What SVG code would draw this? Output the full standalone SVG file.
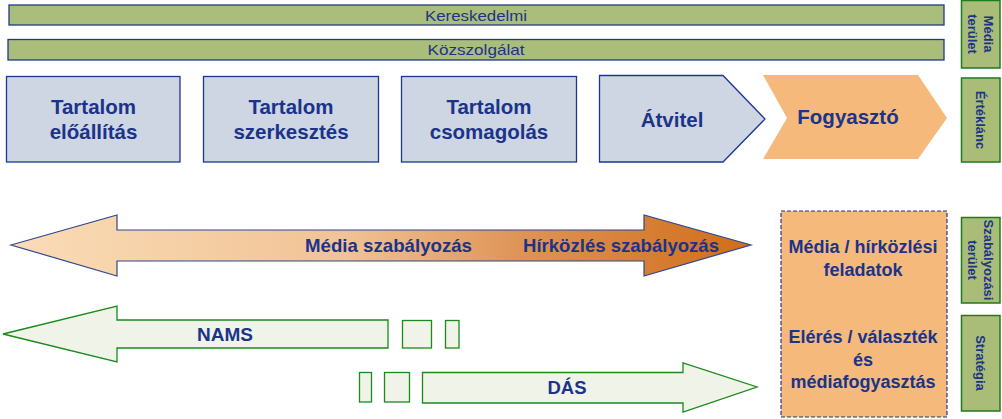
<svg xmlns="http://www.w3.org/2000/svg" width="1002" height="419" viewBox="0 0 1002 419">
<defs>
<linearGradient id="gOrange" x1="11" y1="0" x2="751" y2="0" gradientUnits="userSpaceOnUse">
<stop offset="0" stop-color="#fadcb7"/>
<stop offset="0.45" stop-color="#f1c395"/>
<stop offset="0.68" stop-color="#df9558"/>
<stop offset="1" stop-color="#d06d18"/>
</linearGradient>
<style>
.t{font-family:"Liberation Sans",Arial,sans-serif;fill:#1b3389;text-anchor:middle}
.b{font-weight:bold}
.bar{fill:#abbd7a;stroke:#1f3a8a;stroke-width:1.3}
.side{fill:#a9bd78;stroke:#1e7b1e;stroke-width:1.5}
.box{fill:#cdd6e2;stroke:#1f3590;stroke-width:1.3}
.grn{fill:#eff3e8;stroke:#1a8a1a;stroke-width:1.3}
.st{font-size:13px;font-weight:bold;dominant-baseline:central}
</style>
</defs>
<rect width="1002" height="419" fill="#ffffff"/>

<g id="bar-kereskedelmi">
<rect class="bar" x="9" y="5" width="935" height="20"/>
<text class="t" x="476" y="20.5" font-size="15" textLength="102" lengthAdjust="spacingAndGlyphs">Kereskedelmi</text>
</g>
<g id="bar-kozszolgalat">
<rect class="bar" x="8" y="39.5" width="936" height="20.5"/>
<text class="t" x="476" y="55" font-size="15" textLength="97" lengthAdjust="spacingAndGlyphs">Közszolgálat</text>
</g>

<g id="node-eloallitas">
<rect class="box" x="6.5" y="76.5" width="173.5" height="85.5"/>
<text class="t b" x="93.5" y="114" font-size="20.5">Tartalom</text>
<text class="t b" x="93.5" y="139" font-size="20.5">előállítás</text>
</g>
<g id="node-szerkesztes">
<rect class="box" x="203.5" y="76.5" width="175" height="85.5"/>
<text class="t b" x="291" y="114" font-size="20.5">Tartalom</text>
<text class="t b" x="291" y="139" font-size="20.5">szerkesztés</text>
</g>
<g id="node-csomagolas">
<rect class="box" x="401.5" y="76.5" width="175" height="85.5"/>
<text class="t b" x="489" y="114" font-size="20.5">Tartalom</text>
<text class="t b" x="489" y="139" font-size="20.5">csomagolás</text>
</g>
<g id="node-atvitel">
<polygon class="box" points="599.5,75.5 723,75.5 765,119 723,162 599.5,162"/>
<text class="t b" x="672" y="127" font-size="20.5">Átvitel</text>
</g>
<g id="node-fogyaszto">
<polygon points="763,75 918,75 947,118 918,159 763,159 787,118" fill="#f5b97b"/>
<text class="t b" x="848" y="124" font-size="20.5">Fogyasztó</text>
</g>

<g id="side-media-terulet">
<rect class="side" x="961.5" y="0.5" width="38.5" height="67.5"/>
<g transform="translate(980.5,34) rotate(90)">
<text class="t st" x="0" y="-8">Média</text>
<text class="t st" x="0" y="8">terület</text>
</g>
</g>
<g id="side-erteklanc">
<rect class="side" x="961.5" y="78" width="38.5" height="84"/>
<text class="t st" transform="translate(980.5,120) rotate(90)">Értéklánc</text>
</g>
<g id="side-szabalyozasi">
<rect class="side" x="961.5" y="217.5" width="38.5" height="85.5"/>
<g transform="translate(980.5,260) rotate(90)">
<text class="t st" x="0" y="-8">Szabályozási</text>
<text class="t st" x="0" y="8">terület</text>
</g>
</g>
<g id="side-strategia">
<rect class="side" x="961.5" y="315.5" width="38.5" height="95.5"/>
<text class="t st" transform="translate(980.5,363) rotate(90)">Stratégia</text>
</g>

<g id="node-feladatok">
<rect x="781" y="211" width="166" height="206" fill="#f5b97b" stroke="#1f3590" stroke-width="1.2" stroke-dasharray="4,2"/>
<text class="t b" x="863" y="253" font-size="18">Média / hírközlési</text>
<text class="t b" x="863" y="276" font-size="18">feladatok</text>
<text class="t b" x="863" y="343" font-size="18">Elérés / választék</text>
<text class="t b" x="863" y="366" font-size="18">és</text>
<text class="t b" x="863" y="388" font-size="18">médiafogyasztás</text>
</g>

<g id="connectors">
<g id="arrow-szabalyozas">
<polygon points="11,245 117,215 117,230 644,230 644,215 751,245 644,276 644,261 117,261 117,276" fill="url(#gOrange)" stroke="#2e4690" stroke-width="1.2"/>
<text class="t b" x="388.5" y="252" font-size="18.5" textLength="167" lengthAdjust="spacingAndGlyphs">Média szabályozás</text>
<text class="t b" x="621" y="252" font-size="18.5" textLength="196" lengthAdjust="spacingAndGlyphs">Hírközlés szabályozás</text>
</g>
<g id="arrow-nams">
<polygon class="grn" points="3,334 117,306 117,320 388,320 388,348 117,348 117,362"/>
<rect class="grn" x="402.5" y="320.5" width="29" height="27.5"/>
<rect class="grn" x="445.5" y="320.5" width="13.5" height="27.5"/>
<text class="t b" x="225" y="341" font-size="17.5" textLength="56" lengthAdjust="spacingAndGlyphs">NAMS</text>
</g>
<g id="arrow-das">
<rect class="grn" x="359.5" y="372.5" width="12" height="29.5"/>
<rect class="grn" x="384.5" y="372.5" width="25" height="29.5"/>
<polygon class="grn" points="422.5,372.5 683,372.5 683,363 757,387 683,412 683,403 422.5,403"/>
<text class="t b" x="567" y="394" font-size="17.5" textLength="39" lengthAdjust="spacingAndGlyphs">DÁS</text>
</g>
</g>
</svg>
